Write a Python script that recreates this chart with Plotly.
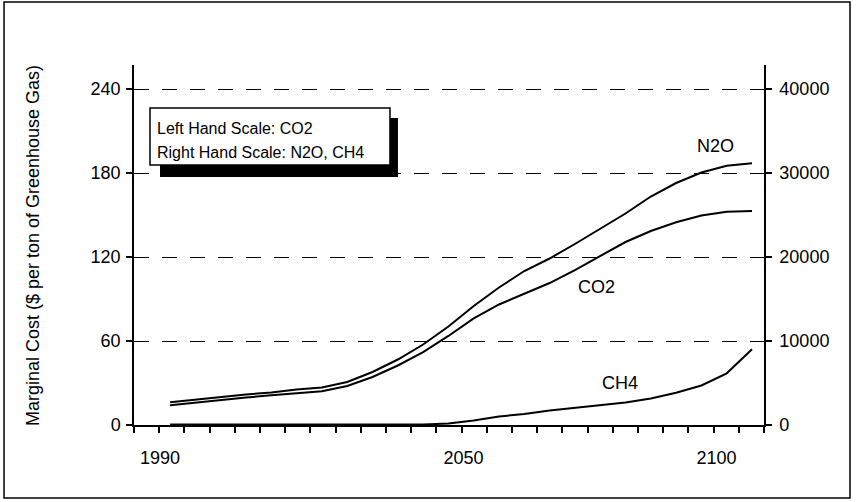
import plotly.graph_objects as go

# ---- data ----
years = [1992, 1997, 2002, 2007, 2012, 2017, 2022, 2027, 2032, 2037, 2042, 2047,
         2052, 2057, 2062, 2067, 2072, 2077, 2082, 2087, 2092, 2097, 2102, 2107]
co2 = [14.1, 16.1, 17.9, 19.6, 21.2, 22.9, 24.1, 27.9, 34.3, 42.5, 52.1, 63.6,
       76.1, 86.1, 93.9, 101.4, 110.7, 120.7, 130.7, 138.6, 144.8, 149.6, 152.4, 152.9]
n2o = [2714, 3036, 3333, 3631, 3869, 4226, 4464, 5119, 6310, 7798, 9583, 11726,
       14167, 16369, 18333, 19821, 21548, 23393, 25179, 27202, 28810, 30060, 30869, 31155]
ch4 = [50, 50, 50, 50, 50, 50, 50, 50, 50, 50, 50, 179,
       536, 1012, 1310, 1726, 2024, 2321, 2679, 3155, 3833, 4702, 6155, 9012]

x_tick_vals = [1990, 2050, 2100]
x_tick_text = ["1990", "2050", "2100"]
left_ticks = [0, 60, 120, 180, 240]
right_ticks = [0, 10000, 20000, 30000, 40000]

FONT = "Liberation Sans, Arial, Helvetica, sans-serif"
line_style = dict(color="black", width=2)

fig = go.Figure()
fig.add_trace(go.Scatter(x=years, y=co2, mode="lines", line=line_style, name="CO2", yaxis="y"))
fig.add_trace(go.Scatter(x=years, y=n2o, mode="lines", line=line_style, name="N2O", yaxis="y2"))
fig.add_trace(go.Scatter(x=years, y=ch4, mode="lines", line=line_style, name="CH4", yaxis="y2"))

fig.update_layout(
    width=856, height=502, autosize=False,
    margin=dict(l=134, r=92, t=65, b=77),
    paper_bgcolor="white", plot_bgcolor="white",
    showlegend=False,
    font=dict(family=FONT, size=18, color="black"),
    xaxis=dict(
        range=[1984.86, 2109.37],
        tickvals=x_tick_vals, ticktext=x_tick_text,
        ticks="", showline=True, linecolor="black", linewidth=1.5,
        showgrid=False, zeroline=False,
        ticklabelstandoff=16,
        tickfont=dict(size=18, family=FONT, color="black"),
        minor=dict(ticks="outside", tick0=1984.86, dtick=4.98, ticklen=6,
                   tickcolor="black", tickwidth=1.5, showgrid=False),
    ),
    yaxis=dict(
        range=[0, 257.14], tickvals=left_ticks,
        ticks="outside", ticklen=6, tickcolor="black", tickwidth=1.5,
        showline=True, linecolor="black", linewidth=1.5,
        showgrid=True, gridcolor="black", gridwidth=1, griddash="15px,13px",
        zeroline=False, ticklabelstandoff=2,
        tickfont=dict(size=18, family=FONT, color="black"),
    ),
    yaxis2=dict(
        range=[0, 42857], tickvals=right_ticks, tickformat="d",
        overlaying="y", side="right", anchor="x",
        ticks="outside", ticklen=6, tickcolor="black", tickwidth=1.5,
        showline=True, linecolor="black", linewidth=1.5,
        showgrid=False, zeroline=False, ticklabelstandoff=4,
        tickfont=dict(size=18, family=FONT, color="black"),
    ),
    shapes=[
        # outer frame
        dict(type="rect", xref="paper", yref="paper", x0=-0.2063, x1=1.1365, y0=-0.2028, y1=1.175,
             line=dict(color="black", width=1.5), fillcolor="rgba(0,0,0,0)", layer="below"),
        # legend shadow
        dict(type="rect", xref="paper", yref="paper", x0=0.0413, x1=0.419, y0=0.689, y1=0.853,
             line=dict(width=0), fillcolor="black"),
        # legend box
        dict(type="rect", xref="paper", yref="paper", x0=0.0254, x1=0.4063, y0=0.722, y1=0.8806,
             line=dict(color="black", width=1.5), fillcolor="white"),
    ],
    annotations=[
        dict(text="Marginal Cost ($ per ton of Greenhouse Gas)", textangle=-90,
             xref="paper", yref="paper", x=-0.1603, y=0.497, showarrow=False,
             xanchor="center", yanchor="middle",
             font=dict(size=18, family=FONT, color="black")),
        dict(text="Left Hand Scale: CO2", xref="paper", yref="paper", x=0.0333, y=0.825,
             xanchor="left", yanchor="middle", showarrow=False, font=dict(size=16, family=FONT)),
        dict(text="Right Hand Scale: N2O, CH4", xref="paper", yref="paper", x=0.0333, y=0.7556,
             xanchor="left", yanchor="middle", showarrow=False, font=dict(size=16, family=FONT)),
        dict(text="N2O", xref="paper", yref="paper", x=0.9238, y=0.775, showarrow=False,
             xanchor="center", yanchor="middle", font=dict(size=18, family=FONT)),
        dict(text="CO2", xref="paper", yref="paper", x=0.7349, y=0.3833, showarrow=False,
             xanchor="center", yanchor="middle", font=dict(size=18, family=FONT)),
        dict(text="CH4", xref="paper", yref="paper", x=0.7714, y=0.1167, showarrow=False,
             xanchor="center", yanchor="middle", font=dict(size=18, family=FONT)),
    ],
)

# remove the browser's default 8px page margin so the figure sits at (0, 0)
fig.write_html("out.html", config={"displayModeBar": False},
               post_script="document.body.style.margin='0';")
